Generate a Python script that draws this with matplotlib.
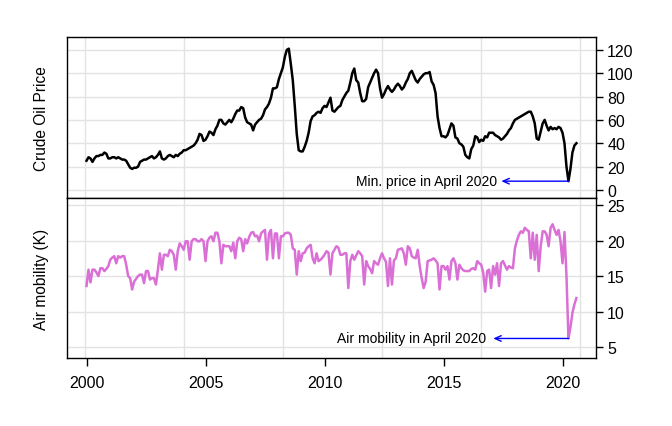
import numpy as np
import matplotlib
matplotlib.use("Agg")
import matplotlib.pyplot as plt

plt.rcParams['font.family'] = ['Liberation Sans', 'DejaVu Sans']

# monthly values, Jan 2000 .. Aug 2020
oil_price = [
    25, 28, 27, 24, 27, 29, 29, 30, 30, 32, 31, 27,     # 2000
    27, 28, 28, 27, 28, 27, 26, 26, 25, 22, 19, 18,     # 2001
    19, 19, 20, 24, 25, 26, 26, 27, 28, 29, 27, 28,     # 2002
    30, 33, 27, 26, 27, 29, 30, 29, 28, 30, 29, 31,     # 2003
    32, 34, 34, 35, 36, 37, 38, 40, 43, 48, 47, 42,     # 2004
    43, 46, 50, 49, 47, 52, 55, 60, 60, 57, 56, 58,     # 2005
    60, 58, 61, 65, 68, 68, 71, 70, 62, 58, 57, 56,     # 2006
    51, 56, 58, 60, 61, 64, 69, 71, 74, 79, 87, 87,     # 2007
    88, 95, 100, 105, 114, 120, 121, 108, 94, 72, 48, 34,  # 2008
    33, 33, 37, 42, 49, 59, 63, 64, 66, 67, 66, 70,     # 2009
    72, 71, 75, 79, 68, 67, 69, 71, 72, 77, 80, 83,     # 2010
    85, 92, 100, 104, 94, 92, 83, 76, 76, 78, 88, 92,   # 2011
    96, 100, 103, 100, 87, 79, 82, 86, 89, 86, 84, 86,  # 2012
    89, 91, 89, 86, 88, 92, 95, 100, 102, 98, 94, 92,   # 2013
    95, 97, 99, 100, 100, 101, 93, 90, 83, 63, 53, 46,  # 2014
    46, 45, 47, 52, 57, 55, 45, 44, 40, 39, 37, 30,     # 2015
    28, 27, 35, 38, 46, 45, 41, 43, 42, 46, 45, 49,     # 2016
    49, 49, 47, 46, 45, 43, 44, 46, 48, 51, 53, 57,     # 2017
    60, 61, 62, 63, 64, 65, 66, 67, 67, 63, 57, 44,     # 2018
    43, 50, 57, 60, 55, 51, 54, 52, 53, 52, 54, 53,     # 2019
    49, 40, 20, 7.5, 18, 32, 38, 40,                    # 2020
]

air_mobility = [
    13.6, 15.9, 14.1, 15.9, 15.9, 15.5, 15.0, 16.1, 16.1, 15.7, 16.0, 16.4,  # 2000
    17.3, 17.6, 17.8, 16.8, 17.8, 17.6, 17.8, 17.8, 16.6, 15.0, 14.7, 13.1,  # 2001
    14.2, 14.6, 15.0, 15.2, 15.2, 14.0, 15.7, 15.7, 14.5, 14.7, 14.7, 13.8,  # 2002
    15.9, 18.2, 15.9, 18.0, 18.0, 17.8, 18.7, 18.5, 18.0, 15.9, 18.5, 19.6,  # 2003
    19.2, 18.7, 19.9, 19.9, 17.3, 19.9, 20.2, 20.2, 19.9, 19.9, 20.2, 19.9,  # 2004
    17.1, 19.9, 20.4, 20.6, 19.9, 21.1, 21.1, 19.9, 16.8, 19.4, 19.2, 19.2,  # 2005
    19.2, 18.5, 19.7, 17.5, 19.9, 20.4, 20.2, 18.5, 20.2, 19.6, 20.5, 21.1,  # 2006
    21.2, 20.6, 20.7, 19.9, 21.0, 21.3, 21.5, 17.3, 21.0, 21.5, 17.5, 21.0,  # 2007
    21.0, 17.5, 20.6, 20.6, 21.0, 21.1, 21.1, 20.8, 18.9, 18.7, 15.2, 18.5,  # 2008
    17.1, 18.2, 18.3, 18.9, 19.2, 19.4, 17.5, 16.8, 18.2, 17.1, 17.3, 17.6,  # 2009
    18.0, 18.5, 18.3, 15.2, 18.2, 18.7, 19.2, 19.0, 18.0, 18.0, 18.2, 18.2,  # 2010
    13.3, 17.1, 18.0, 17.3, 17.9, 18.5, 18.2, 17.8, 13.8, 17.1, 16.4, 16.0,  # 2011
    15.4, 17.1, 16.8, 16.6, 17.5, 18.2, 17.5, 17.0, 13.6, 17.5, 13.8, 17.2,  # 2012
    17.5, 18.7, 18.8, 18.9, 18.2, 16.6, 19.2, 18.9, 17.8, 17.6, 17.5, 18.7,  # 2013
    16.4, 14.7, 13.3, 14.2, 17.1, 17.2, 17.3, 17.5, 17.2, 16.8, 13.1, 16.4,  # 2014
    16.4, 15.9, 16.4, 14.5, 17.1, 17.5, 16.8, 14.5, 16.6, 16.1, 15.8, 15.7,  # 2015
    15.7, 15.7, 16.0, 16.1, 15.9, 17.1, 16.8, 16.6, 15.5, 12.8, 15.7, 15.9,  # 2016
    13.3, 16.4, 15.2, 16.8, 13.6, 16.8, 17.1, 16.5, 15.9, 16.4, 16.2, 16.1,  # 2017
    18.9, 20.0, 20.8, 21.3, 21.1, 21.8, 21.5, 21.3, 17.5, 21.1, 17.3, 20.8,  # 2018
    15.7, 19.2, 21.3, 21.3, 20.8, 19.2, 21.8, 22.3, 21.5, 20.8, 21.5, 19.9,  # 2019
    16.8, 21.2, 15.0, 6.2, 7.8, 9.8, 11.0, 11.9,                            # 2020
]

oil_ticks = [0, 20, 40, 60, 80, 100, 120]
air_ticks = [5, 10, 15, 20, 25]
year_ticks = [2000, 2005, 2010, 2015, 2020]

t = 2000 + np.arange(len(oil_price)) / 12.0
apr2020 = 2020 + 3 / 12.0

# grid like R's grid() on the month index (0, 50, ..., 250)
grid_x = 2000 + (np.arange(0, 251, 50) - 1) / 12.0

fig = plt.figure(figsize=(6.72, 4.27), dpi=100)
ax1 = fig.add_axes([0.0997, 0.534, 0.7873, 0.377])
ax2 = fig.add_axes([0.0997, 0.1593, 0.7873, 0.3747])

gcol = '#e3e3e3'
for ax in (ax1, ax2):
    ax.set_xlim(1999.18, 2021.41)
    for gx in grid_x:
        ax.axvline(gx, color=gcol, lw=1, zorder=0)
    ax.yaxis.tick_right()
    ax.yaxis.set_label_position('left')
    ax.tick_params(axis='y', direction='out', length=5, width=1, pad=3, labelsize=11.5)
    for s in ax.spines.values():
        s.set_linewidth(1)

# top panel: crude oil
ax1.set_ylim(-6.9, 131)
for gy in oil_ticks:
    ax1.axhline(gy, color=gcol, lw=1, zorder=0)
ax1.plot(t, oil_price, color='black', lw=1.8, zorder=3)
ax1.set_yticks(oil_ticks)
ax1.set_xticks([])
ax1.set_ylabel('Crude Oil Price', fontsize=11.2, labelpad=13)
ax1.annotate('', xy=(2017.43, 7.5), xytext=(apr2020, 7.5),
             arrowprops=dict(arrowstyle='->,head_length=0.45,head_width=0.2',
                             color='blue', lw=1, shrinkA=0, shrinkB=0))
ax1.text(2017.26, 7.5, 'Min. price in April 2020', ha='right', va='center', fontsize=10)

# bottom panel: air mobility
ax2.set_ylim(3.45, 26.0)
for gy in air_ticks:
    ax2.axhline(gy, color=gcol, lw=1, zorder=0)
ax2.plot(t, air_mobility, color='orchid', lw=1.8, zorder=3)
ax2.set_yticks(air_ticks)
ax2.set_xticks(year_ticks)
ax2.tick_params(axis='x', direction='out', length=6, width=1, pad=6.5, labelsize=11.5)
ax2.set_ylabel('Air mobility (K)', fontsize=11.2, labelpad=13)
ax2.annotate('', xy=(2017.09, 6.2), xytext=(apr2020, 6.2),
             arrowprops=dict(arrowstyle='->,head_length=0.45,head_width=0.2',
                             color='blue', lw=1, shrinkA=0, shrinkB=0))
ax2.text(2016.8, 6.2, 'Air mobility in April 2020', ha='right', va='center', fontsize=10)

fig.savefig('out.png', dpi=100)
